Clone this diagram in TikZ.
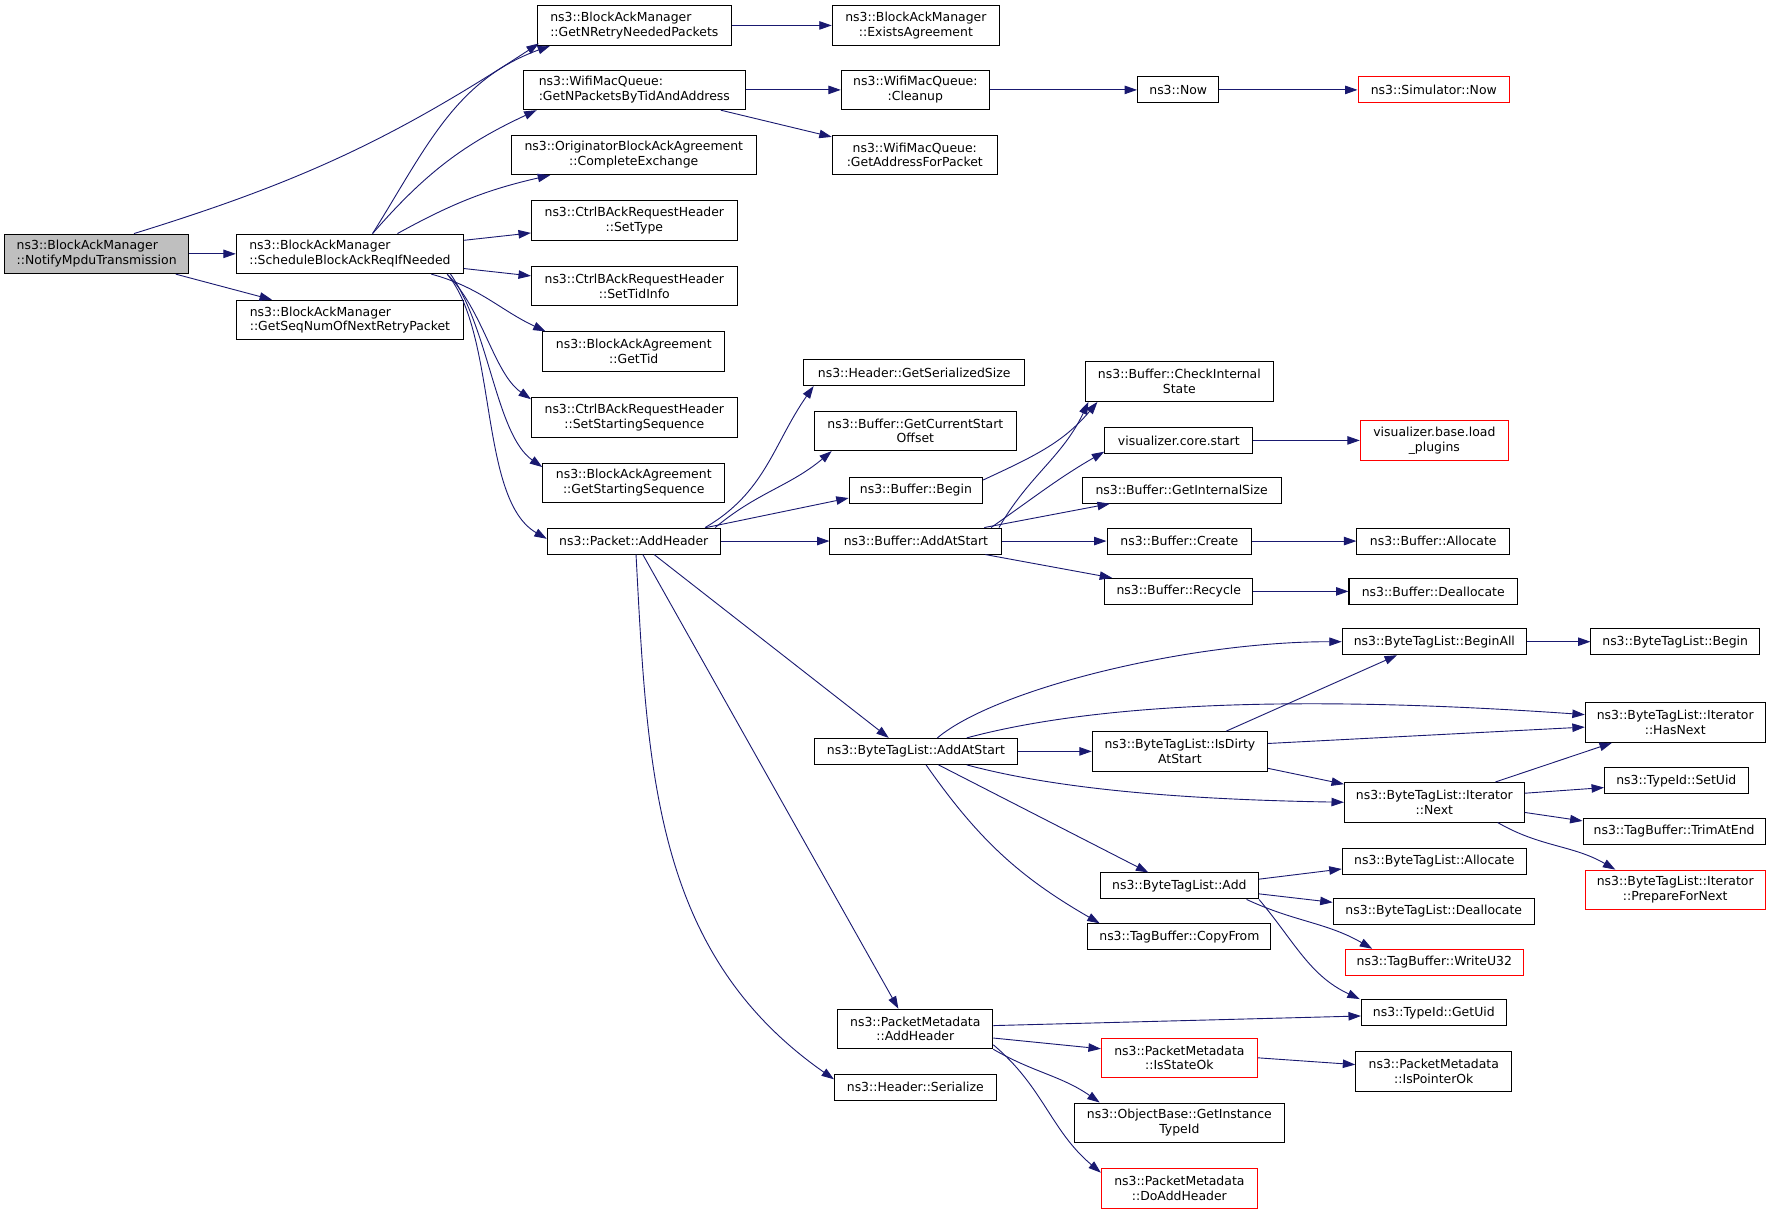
\documentclass[tikz,border=0pt]{standalone}
\usepackage{fontspec}
\setmainfont{DejaVu Sans}
\usetikzlibrary{arrows.meta}
\definecolor{edgeblue}{HTML}{191970}
\definecolor{nodegray}{HTML}{BFBFBF}
\begin{document}
\begin{tikzpicture}[x=1pt, y=-1pt,
	fn/.style={draw, line width=0.9pt, inner sep=0pt, minimum height=23pt, align=center, font=\fontsize{11}{13}\selectfont},
	two/.style={minimum height=35pt},
	ext/.style={draw=red},
	call/.style={draw=edgeblue, line width=0.8pt, -{Triangle[length=11pt,width=7.5pt]}}]
	\useasboundingbox (0,0) rectangle (1568,1074);
	
	\node[fn, two, fill=nodegray, align=left, minimum width=163pt] (notify) at (85.5,224.5) {ns3::BlockAckManager\\::NotifyMpduTransmission};
	\node[fn, two, align=left, minimum width=201pt] (sched) at (309.5,224.5) {ns3::BlockAckManager\\::ScheduleBlockAckReqIfNeeded};
	\node[fn, two, align=left, minimum width=201pt] (seqnum) at (309.5,283) {ns3::BlockAckManager\\::GetSeqNumOfNextRetryPacket};
	\node[fn, two, align=left, minimum width=172pt] (nretry) at (561,22.5) {ns3::BlockAckManager\\::GetNRetryNeededPackets};
	\node[fn, two, minimum width=148pt] (exists) at (810,22.5) {ns3::BlockAckManager\\::ExistsAgreement};
	\node[fn, two, align=left, minimum width=196pt] (npackets) at (561,79.5) {ns3::WifiMacQueue:\\:GetNPacketsByTidAndAddress};
	\node[fn, two, minimum width=131pt] (cleanup) at (809.5,79.5) {ns3::WifiMacQueue:\\:Cleanup};
	\node[fn, minimum width=72pt] (now) at (1042,79.5) {ns3::Now};
	\node[fn, ext, minimum width=134pt] (simnow) at (1268,79.5) {ns3::Simulator::Now};
	\node[fn, two, minimum width=146pt] (addrpkt) at (809,137) {ns3::WifiMacQueue:\\:GetAddressForPacket};
	\node[fn, two, minimum width=217pt] (complete) at (560.5,137) {ns3::OriginatorBlockAckAgreement\\::CompleteExchange};
	\node[fn, two, minimum width=182pt] (settype) at (561,195) {ns3::CtrlBAckRequestHeader\\::SetType};
	\node[fn, two, minimum width=182pt] (settid) at (561,253) {ns3::CtrlBAckRequestHeader\\::SetTidInfo};
	\node[fn, two, minimum width=161pt] (gettid) at (560.5,311) {ns3::BlockAckAgreement\\::GetTid};
	\node[fn, two, minimum width=182pt] (setstart) at (561,369) {ns3::CtrlBAckRequestHeader\\::SetStartingSequence};
	\node[fn, two, minimum width=161pt] (getstart) at (560.5,427) {ns3::BlockAckAgreement\\::GetStartingSequence};
	\node[fn, minimum width=153pt] (pktadd) at (560.5,478.5) {ns3::Packet::AddHeader};
	\node[fn, minimum width=195pt] (sersize) at (808.5,329.5) {ns3::Header::GetSerializedSize};
	\node[fn, two, minimum width=179pt] (curstart) at (809.5,381) {ns3::Buffer::GetCurrentStart\\Offset};
	\node[fn, minimum width=118pt] (bufbegin) at (810,433.5) {ns3::Buffer::Begin};
	\node[fn, minimum width=152pt] (bufaddstart) at (810,478.5) {ns3::Buffer::AddAtStart};
	\node[fn, two, minimum width=166pt] (checkint) at (1043,337.5) {ns3::Buffer::CheckInternal\\State};
	\node[fn, minimum width=131pt] (vizstart) at (1042.5,389.5) {visualizer.core.start};
	\node[fn, two, ext, minimum width=131pt] (vizload) at (1268.5,389.5) {visualizer.base.load\\\_plugins};
	\node[fn, minimum width=176pt] (intsize) at (1045,433.5) {ns3::Buffer::GetInternalSize};
	\node[fn, minimum width=128pt] (bufcreate) at (1043,478.5) {ns3::Buffer::Create};
	\node[fn, minimum width=135pt] (bufalloc) at (1267.5,478.5) {ns3::Buffer::Allocate};
	\node[fn, minimum width=131pt] (bufrecycle) at (1042.5,523) {ns3::Buffer::Recycle};
	\node[fn, minimum width=149pt] (bufdealloc) at (1267.5,523) {ns3::Buffer::Deallocate};
	\node[fn, minimum width=163pt] (beginall) at (1268.5,567.5) {ns3::ByteTagList::BeginAll};
	\node[fn, minimum width=149pt] (tagbegin) at (1481.5,567.5) {ns3::ByteTagList::Begin};
	\node[fn, two, minimum width=159pt] (hasnext) at (1481.5,639) {ns3::ByteTagList::Iterator\\::HasNext};
	\node[fn, minimum width=180pt] (tagaddstart) at (810,664.5) {ns3::ByteTagList::AddAtStart};
	\node[fn, two, minimum width=155pt] (isdirty) at (1043.5,664.5) {ns3::ByteTagList::IsDirty\\AtStart};
	\node[fn, two, minimum width=159pt] (next) at (1268.5,709.5) {ns3::ByteTagList::Iterator\\::Next};
	\node[fn, minimum width=127pt] (setuid) at (1482.5,690.5) {ns3::TypeId::SetUid};
	\node[fn, minimum width=161pt] (trimend) at (1480.5,735) {ns3::TagBuffer::TrimAtEnd};
	\node[fn, two, ext, minimum width=159pt] (prepnext) at (1481.5,787) {ns3::ByteTagList::Iterator\\::PrepareForNext};
	\node[fn, minimum width=163pt] (tagalloc) at (1268.5,761.5) {ns3::ByteTagList::Allocate};
	\node[fn, minimum width=140pt] (tagadd) at (1043,783.5) {ns3::ByteTagList::Add};
	\node[fn, minimum width=178pt] (tagdealloc) at (1268,806) {ns3::ByteTagList::Deallocate};
	\node[fn, minimum width=162pt] (copyfrom) at (1043,828.5) {ns3::TagBuffer::CopyFrom};
	\node[fn, ext, minimum width=157pt] (writeu32) at (1268.5,851) {ns3::TagBuffer::WriteU32};
	\node[fn, minimum width=128pt] (getuid) at (1268,895.5) {ns3::TypeId::GetUid};
	\node[fn, two, minimum width=137pt] (pmadd) at (809.5,910) {ns3::PacketMetadata\\::AddHeader};
	\node[fn, two, ext, minimum width=138pt] (stateok) at (1043,935.5) {ns3::PacketMetadata\\::IsStateOk};
	\node[fn, two, minimum width=138pt] (pointerok) at (1268,947.5) {ns3::PacketMetadata\\::IsPointerOk};
	\node[fn, minimum width=143pt] (hdrser) at (809.5,961.5) {ns3::Header::Serialize};
	\node[fn, two, minimum width=186pt] (instance) at (1043,993) {ns3::ObjectBase::GetInstance\\TypeId};
	\node[fn, two, ext, minimum width=138pt] (doadd) at (1043,1051) {ns3::PacketMetadata\\::DoAddHeader};
	
	\foreach \a/\b in {notify/sched, nretry/exists, npackets/cleanup, cleanup/now, now/simnow, pktadd/bufaddstart, bufaddstart/bufcreate, bufcreate/bufalloc, bufrecycle/bufdealloc, vizstart/vizload, beginall/tagbegin, tagaddstart/isdirty}
	{
		\draw[call] (\a.east) -- (\b.west);
	}
	
	\draw[call] ([xshift=33]notify.north) to[bend right=8] ([xshift=2,yshift=2]nretry.south west);
	\draw[call] ([xshift=-12]notify.south east) -- ([xshift=32]seqnum.north west);
	\draw[call] ([xshift=20]sched.north) to[out=58,in=-160] ([xshift=12]nretry.south west);
	\draw[call] ([xshift=20]sched.north) to[bend left=12] ([xshift=12]npackets.south west);
	\draw[call] ([xshift=42]sched.north) to[bend left=8] ([xshift=35]complete.south west);
	\draw[call] ([yshift=12]sched.east) -- ([yshift=-11]settype.west);
	\draw[call] ([yshift=-13]sched.east) -- ([yshift=9]settid.west);
	\draw[call] ([xshift=-29]sched.south east) to[out=-15,in=155] ([xshift=3]gettid.north west);
	\draw[call] ([xshift=-15]sched.south east) .. controls +(-45:45pt) and +(145:40pt) .. ([yshift=-2]setstart.north west);
	\draw[call] ([xshift=-12]sched.south east) .. controls +(-55:60pt) and +(145:50pt) .. ([yshift=-4]getstart.north west);
	\draw[call] ([xshift=-15]sched.south east) .. controls +(-50:70pt) and +(150:70pt) .. ([yshift=2]pktadd.west);
	\draw[call] ([xshift=-22]npackets.south east) -- ([yshift=-2]addrpkt.north west);
	
	\draw[call] ([xshift=63]pktadd.north) to[out=30,in=-125] ([xshift=9]sersize.south west);
	\draw[call] ([xshift=72]pktadd.north) to[out=40,in=-140] ([xshift=16]curstart.south west);
	\draw[call] ([xshift=64]pktadd.north) -- ([yshift=5]bufbegin.south west);
	\draw[call] ([xshift=18]pktadd.south) -- ([xshift=-24]tagaddstart.north);
	\draw[call] ([xshift=8]pktadd.south) -- ([xshift=-15]pmadd.north);
	\draw[call] ([xshift=2]pktadd.south) to[out=-87,in=145] ([yshift=7]hdrser.west);
	
	\draw[call] ([yshift=9]bufbegin.east) to[out=25,in=-130] ([xshift=11]checkint.south west);
	\draw[call] ([xshift=-3]bufaddstart.north east) to[out=60,in=-115] ([xshift=3]checkint.south west);
	\draw[call] ([xshift=-10]bufaddstart.north east) to[out=35,in=-150] ([yshift=2]vizstart.south west);
	\draw[call] ([xshift=-16]bufaddstart.north east) -- ([xshift=25]intsize.south west);
	\draw[call] ([xshift=-15]bufaddstart.south east) -- ([xshift=7]bufrecycle.north west);
	
	\draw[call] ([xshift=19]tagaddstart.north) .. controls +(40:67pt) and +(180:137pt) .. (beginall.west);
	\draw[call] ([xshift=45]tagaddstart.north) .. controls +(15:130pt) and +(176:230pt) .. ([yshift=7]hasnext.west);
	\draw[call] ([xshift=45]tagaddstart.south) .. controls +(-15:80pt) and +(179:150pt) .. (next.west);
	\draw[call] ([xshift=20]tagaddstart.south) -- ([xshift=43]tagadd.north west);
	\draw[call] ([xshift=9]tagaddstart.south) to[out=-55,in=150] ([xshift=11]copyfrom.north west);
	
	\draw[call] ([xshift=41]isdirty.north) -- ([xshift=-33]beginall.south);
	\draw[call] ([yshift=7]isdirty.east) -- ([yshift=-4]hasnext.west);
	\draw[call] ([yshift=-15]isdirty.east) -- ([yshift=16]next.west);
	\draw[call] ([xshift=54]next.north) -- ([xshift=24]hasnext.south west);
	\draw[call] ([yshift=8]next.east) -- ([yshift=-6]setuid.west);
	\draw[call] ([yshift=-9]next.east) -- ([yshift=9]trimend.west);
	\draw[call] ([xshift=56]next.south) to[out=-30,in=150] ([xshift=27]prepnext.north west);
	
	\draw[call] ([yshift=6]tagadd.east) -- ([yshift=-7]tagalloc.west);
	\draw[call] ([yshift=-7]tagadd.east) -- ([yshift=8]tagdealloc.west);
	\draw[call] ([xshift=-11]tagadd.south east) to[out=-25,in=150] ([xshift=24]writeu32.north west);
	\draw[call] (tagadd.south east) to[out=-50,in=155] ([xshift=-1]getuid.north west);
	
	\draw[call] ([yshift=3]pmadd.east) -- ([yshift=-3]getuid.west);
	\draw[call] ([yshift=-8]pmadd.east) -- ([yshift=8]stateok.west);
	\draw[call] (pmadd.south east) to[out=-30,in=145] ([xshift=23]instance.north west);
	\draw[call] ([yshift=-14]pmadd.east) to[out=-40,in=140] ([yshift=-4]doadd.north west);
	\draw[call] (stateok.east) -- ([yshift=6]pointerok.west);
\end{tikzpicture}
\end{document}
